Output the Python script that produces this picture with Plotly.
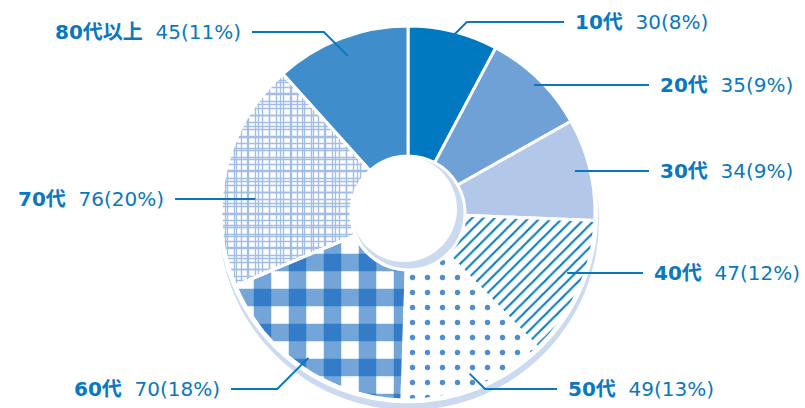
import math
import plotly.graph_objects as go

# ---- data -------------------------------------------------------------
ages = ["10代", "20代", "30代", "40代", "50代", "60代", "70代", "80代以上"]
counts = [30, 35, 34, 47, 49, 70, 76, 45]
shares = ["8%", "9%", "9%", "12%", "13%", "18%", "20%", "11%"]

# ---- canvas / pie geometry (pixels) ----------------------------------
W, H = 805, 408
CX, CY, R = 408, 213, 187
HOLE_R = 57

def px(x):
    return x / W

def py(y):
    return 1 - y / H

domain = dict(x=[px(CX - R), px(CX + R)], y=[py(CY + R), py(CY - R)])
hole = HOLE_R / R

# ---- slice styling ----------------------------------------------------
BLUE = "#0A78BE"
TRANSPARENT = "rgba(0,0,0,0)"
fill_colors = ["#0079C1", "#6FA0D6", "#B3C8E8", "#FFFFFF",
               "#FFFFFF", "#FFFFFF", "#FFFFFF", "#3F8DCB"]
pat_shape = ["", "", "", "/", ".", "", "+", ""]
pat_fg = ["#000", "#000", "#000", "#0E7CC1", "#4D8DD0", "#000", "#A2BEE4", "#000"]
pat_bg = ["#0079C1", "#6FA0D6", "#B3C8E8", "#FFFFFF",
          "#FFFFFF", "#FFFFFF", "#FFFFFF", "#3F8DCB"]
pat_size = [8, 8, 8, 8, 15, 8, 7, 8]
pat_solid = [0.3, 0.3, 0.3, 0.27, 0.1, 0.3, 0.36, 0.3]

GINGHAM = ages.index("60代")
HATCH = ages.index("70代")

fig = go.Figure()

fig.add_trace(go.Pie(
    values=counts, labels=ages, sort=False, direction="clockwise",
    rotation=0, hole=hole, domain=domain, textinfo="none",
    hoverinfo="label+value",
    marker=dict(
        colors=fill_colors,
        line=dict(color="white", width=3),
        pattern=dict(shape=pat_shape, fgcolor=pat_fg, bgcolor=pat_bg,
                     size=pat_size, solidity=pat_solid),
    ),
))

# extra pattern layers drawn over a single slice
def slice_layer(idx, shape, fg, opacity, size, solidity):
    shapes = [shape if i == idx else "" for i in range(len(ages))]
    line_cols = ["white" if i == idx else TRANSPARENT for i in range(len(ages))]
    return go.Pie(
        values=counts, labels=ages, sort=False, direction="clockwise",
        rotation=0, hole=hole, domain=domain, textinfo="none",
        hoverinfo="skip", showlegend=False,
        marker=dict(
            colors=[TRANSPARENT] * len(ages),
            line=dict(color=line_cols, width=3),
            pattern=dict(shape=shapes, fgcolor=fg, bgcolor=TRANSPARENT,
                         fgopacity=opacity, size=size, solidity=solidity),
        ),
    )

# 70代: second, offset-pitch grid gives an irregular cross-hatch
fig.add_trace(slice_layer(HATCH, "+", "#A2BEE4", 1.0, 11, 0.22))

# 60代: gingham from two translucent stripe layers; the overlap darkens
fig.add_trace(slice_layer(GINGHAM, "|", "#005ABA", 0.55, 35, 0.5))
fig.add_trace(slice_layer(GINGHAM, "-", "#005ABA", 0.55, 35, 0.5))

# ---- rim and inner wall ----------------------------------------------
def circle(cx, cy, r, fill, line=None):
    return dict(type="circle", xref="paper", yref="paper", layer="below",
                x0=px(cx - r), x1=px(cx + r), y0=py(cy + r), y1=py(cy - r),
                fillcolor=fill, line=line or dict(width=0))

shapes = [
    circle(CX + 1, CY + 7, R + 3, "#CBDAEF"),
    circle(CX, CY, R + 2, TRANSPARENT, dict(color="white", width=2.5)),
    circle(CX - 4, CY - 4, HOLE_R - 4, "white"),
]

# ---- labels with leader lines ----------------------------------------
label_x = [573, 658, 658, 652, 566, 222, 166, 243]
label_y = [22, 85, 171, 273, 389, 389, 199, 32]
side = [1, 1, 1, 1, 1, -1, -1, -1]
elbow = [True, False, False, False, True, True, False, True]
anchor_frac = [0.97, 0.96, 0.92, 0.91, 0.92, 0.94, 0.82, 0.90]

total = sum(counts)
annotations = []
start = 0
for i, (age, n, pct) in enumerate(zip(ages, counts, shares)):
    mid = (start + n / 2) / total * 2 * math.pi
    start += n
    r = anchor_frac[i] * R
    ly = label_y[i]
    s = side[i]
    if elbow[i]:
        ax = CX + r * math.sin(mid)
        ay = CY - r * math.cos(mid)
        ex = ax + s * abs(ly - ay)
        pts = [(ax, ay), (ex, ly)]
    else:
        ax = CX + s * math.sqrt(max(r * r - (ly - CY) ** 2, 0))
        pts = [(ax, ly)]
    end_x = label_x[i] - s * 9
    pts.append((end_x, ly))
    path = "M " + " L ".join(f"{px(x):.5f},{py(y):.5f}" for x, y in pts)
    shapes.append(dict(type="path", xref="paper", yref="paper", path=path,
                       line=dict(color=BLUE, width=2)))
    annotations.append(dict(
        xref="paper", yref="paper", x=px(label_x[i]), y=py(ly),
        xanchor="left" if s > 0 else "right", yanchor="middle",
        showarrow=False,
        text=f"<b>{age}</b>\u00a0\u00a0{n}({pct})",
        font=dict(family="DejaVu Sans, Noto Sans CJK JP", size=20, color=BLUE),
    ))

fig.update_layout(
    width=W, height=H,
    margin=dict(l=0, r=0, t=0, b=0),
    paper_bgcolor="white", plot_bgcolor="white",
    showlegend=False,
    shapes=shapes,
    annotations=annotations,
)

fig.write_html("out.html")
